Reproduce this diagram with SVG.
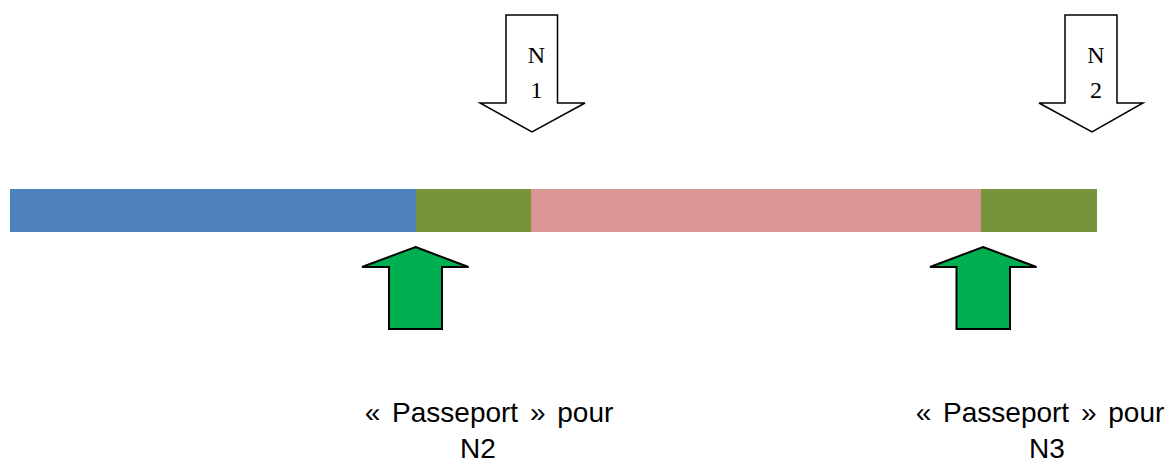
<svg xmlns="http://www.w3.org/2000/svg" width="1167" height="462" viewBox="0 0 1167 462">
  <style>
    .down { fill: #ffffff; stroke: #000000; stroke-width: 1.5; stroke-linejoin: miter; }
    .up { fill: #00B050; stroke: #000000; stroke-width: 2; stroke-linejoin: miter; }
    .serif { font-family: "Liberation Serif", "DejaVu Serif", serif; font-size: 24px; fill: #000000; text-anchor: middle; }
    .label { font-family: "Liberation Sans", Arial, sans-serif; font-size: 28px; fill: #000000; text-anchor: middle; word-spacing: 4px; }
  </style>

  <!-- timeline bar -->
  <g id="bar">
    <rect x="10" y="189" width="406" height="43" fill="#4F81BD"/>
    <rect x="416" y="189" width="115" height="43" fill="#77933C"/>
    <rect x="531" y="189" width="450" height="43" fill="#D99694"/>
    <rect x="981" y="189" width="116" height="43" fill="#77933C"/>
  </g>

  <!-- N1 block arrow -->
  <g id="n1">
    <path class="down" d="M506,15 H557.5 V103 H585 L532,132 L480,103 H506 Z"/>
    <text class="serif" x="536.5" y="63">N</text>
    <text class="serif" x="536.5" y="98">1</text>
  </g>

  <!-- N2 block arrow -->
  <g id="n2">
    <path class="down" d="M1065,15 H1117 V103 H1143 L1092,132 L1039,103 H1065 Z"/>
    <text class="serif" x="1096" y="63">N</text>
    <text class="serif" x="1096" y="98">2</text>
  </g>

  <!-- passport arrows -->
  <g id="passport-n2">
    <path class="up" d="M415.5,247 L468.5,267 H442 V329 H389 V267 H362 Z"/>
    <text class="label" x="489" y="422">« Passeport » pour</text>
    <text class="label" x="478" y="458">N2</text>
  </g>

  <g id="passport-n3">
    <path class="up" d="M983,247 L1036.5,267 H1010 V329 H956.5 V267 H930 Z"/>
    <text class="label" x="1040" y="422">« Passeport » pour</text>
    <text class="label" x="1047" y="458">N3</text>
  </g>
</svg>
